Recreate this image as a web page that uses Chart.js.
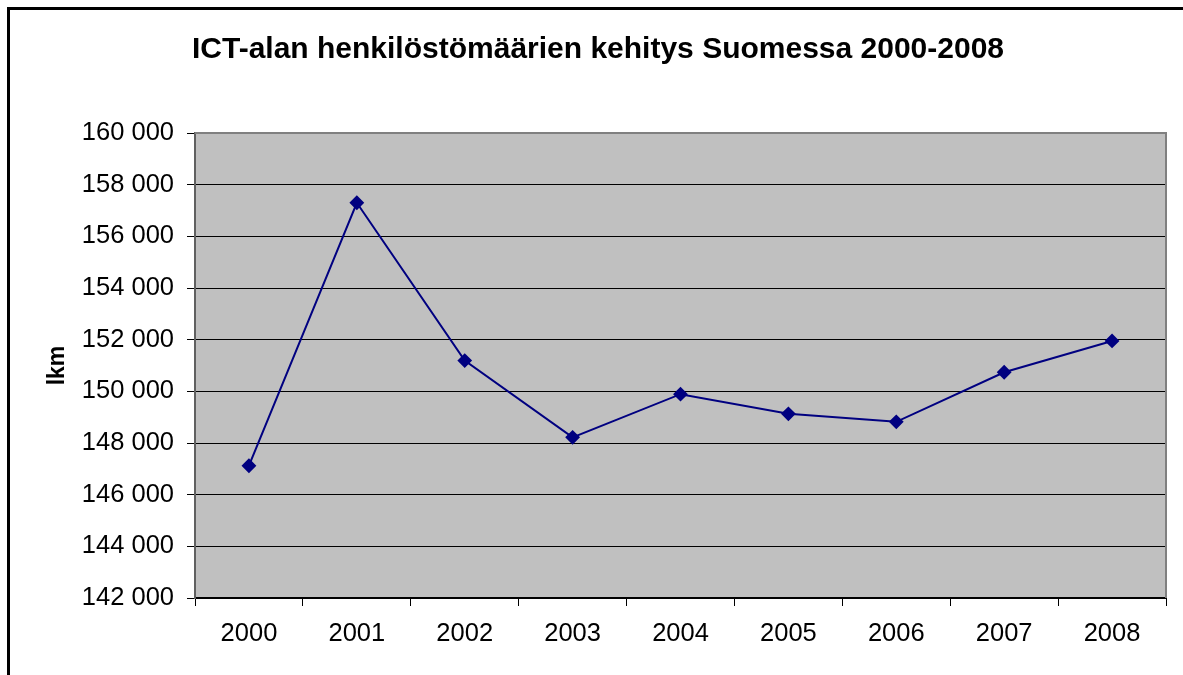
<!DOCTYPE html>
<html>
<head>
<meta charset="utf-8">
<script src="https://cdn.jsdelivr.net/npm/chart.js@4"></script>
<style>
  body { margin: 0; background: #fff; }
  #wrap { position: relative; width: 1183px; height: 675px; }
  #frame { position: absolute; left: 7px; top: 7px; right: 0; bottom: 0;
           border-left: 3px solid #000; border-top: 3px solid #000; pointer-events: none; }
</style>
</head>
<body>
<div id="wrap">
  <canvas id="kaavio" width="1183" height="675"></canvas>
  <div id="frame"></div>
</div>
<script>
const vuodet = ['2000', '2001', '2002', '2003', '2004', '2005', '2006', '2007', '2008'];
const henkilosto = [147120, 157300, 151190, 148220, 149890, 149130, 148820, 150740, 151950];
const yMin = 142000;
const yMax = 160000;
const yAskel = 2000;

// harmaa piirtoalue + ylä- ja oikea reuna
const taustaPlugin = {
    id: 'tausta',
    beforeDatasetsDraw(chart) {
        const a = chart.chartArea;
        const ctx = chart.ctx;
        ctx.save();
        ctx.strokeStyle = '#808080';
        ctx.lineWidth = 2;
        ctx.beginPath();
        ctx.moveTo(a.left, a.top);
        ctx.lineTo(a.right, a.top);
        ctx.lineTo(a.right, a.bottom);
        ctx.stroke();
        ctx.restore();
    },
    beforeDraw(chart) {
        const a = chart.chartArea;
        const ctx = chart.ctx;
        ctx.save();
        ctx.fillStyle = '#c0c0c0';
        ctx.fillRect(a.left, a.top, a.right - a.left, a.bottom - a.top);
        ctx.restore();
    }
};

Chart.defaults.font.family = 'Arial, "Liberation Sans", sans-serif';
Chart.defaults.color = '#000';

new Chart(document.getElementById('kaavio'), {
    type: 'line',
    data: {
        labels: vuodet,
        datasets: [{
            label: 'Lkm',
            data: henkilosto,
            borderColor: '#000080',
            backgroundColor: '#000080',
            borderWidth: 2,
            pointStyle: 'rectRot',
            pointRadius: 6,
            pointHoverRadius: 6,
            tension: 0
        }]
    },
    options: {
        responsive: false,
        animation: false,
        layout: { padding: { left: 30, right: 17, top: 0, bottom: 0 } },
        plugins: {
            legend: { display: false },
            tooltip: { enabled: false },
            title: {
                display: true,
                text: 'ICT-alan henkilöstömäärien kehitys Suomessa 2000-2008',
                font: { size: 30, weight: 'bold' },
                color: '#000',
                padding: { top: 32, bottom: 65 }
            }
        },
        scales: {
            x: {
                offset: true,
                afterFit(scale) { scale.height = 77; },
                grid: {
                    offset: true,
                    drawOnChartArea: false,
                    drawTicks: true,
                    tickLength: 8,
                    color: '#000'
                },
                border: { color: '#000', width: 2 },
                ticks: { font: { size: 25.5 }, padding: 13, maxRotation: 0 }
            },
            y: {
                min: yMin,
                max: yMax,
                afterFit(scale) { scale.width = 165; },
                ticks: {
                    stepSize: yAskel,
                    font: { size: 25.5 },
                    padding: 13,
                    callback: v => String(v).replace(/\B(?=(\d{3})+(?!\d))/g, ' ')
                },
                grid: { color: '#000', lineWidth: 1, tickLength: 8 },
                border: { color: '#606060', width: 2 },
                title: {
                    display: true,
                    text: 'lkm',
                    font: { size: 23, weight: 'bold' },
                    padding: { top: 14 }
                }
            }
        }
    },
    plugins: [taustaPlugin]
});
</script>
</body>
</html>
